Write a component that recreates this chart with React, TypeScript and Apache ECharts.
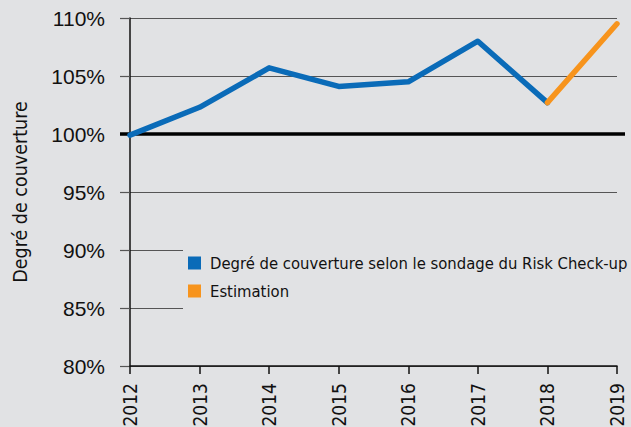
import React, { useEffect, useRef } from "react";
import * as echarts from "echarts";

const years = ["2012", "2013", "2014", "2015", "2016", "2017", "2018", "2019"];
const surveyValues: (number | null)[] = [99.9, 102.3, 105.7, 104.1, 104.5, 108.0, 102.7, null];
const estimateValues: (number | null)[] = [null, null, null, null, null, null, 102.7, 109.5];
const seriesNames = ["Degré de couverture selon le sondage du Risk Check-up", "Estimation"];
const yAxisTitle = "Degré de couverture";
const referenceLevel = 100;

const BG = "#e1e2e4";
const NARROW = "'DejaVu Sans Condensed', 'Liberation Sans Narrow', 'Liberation Sans', sans-serif";
const REGULAR = "'Liberation Sans', Arial, sans-serif";

export default function App() {
  const ref = useRef<HTMLDivElement>(null);
  useEffect(() => {
    if (!ref.current) return;
    const chart = echarts.init(ref.current, null, { renderer: "svg" });
    chart.setOption({
      animation: false,
      backgroundColor: BG,
      grid: { left: 130, right: 14, top: 18, bottom: 61, outerBoundsMode: "none", containLabel: false },
      legend: {
        orient: "vertical",
        left: 183,
        top: 248,
        padding: [5, 12, 10, 5],
        backgroundColor: BG,
        itemWidth: 13,
        itemHeight: 13,
        itemGap: 8,
        icon: "rect",
        textStyle: { fontFamily: NARROW, fontSize: 16.5, color: "#111", lineHeight: 20, padding: [0, 0, 0, 4] },
        data: seriesNames,
      },
      xAxis: {
        type: "category",
        data: years,
        boundaryGap: false,
        axisLine: { lineStyle: { color: "#111", width: 1.5 } },
        axisTick: { length: 8, lineStyle: { color: "#111", width: 1.5 } },
        axisLabel: { rotate: 90, margin: 17, fontFamily: NARROW, fontSize: 19, color: "#111" },
      },
      yAxis: {
        type: "value",
        min: 80,
        max: 110,
        interval: 5,
        name: yAxisTitle,
        nameLocation: "middle",
        nameRotate: 90,
        nameGap: 100,
        nameTextStyle: { fontFamily: NARROW, fontSize: 19.5, color: "#111" },
        axisLine: { show: true, lineStyle: { color: "#111", width: 1.5 } },
        axisTick: { show: true, length: 10, lineStyle: { color: "#555", width: 1.2 } },
        axisLabel: { formatter: "{value}%", margin: 25, fontFamily: REGULAR, fontSize: 21, color: "#111" },
        splitLine: { lineStyle: { color: "#555", width: 1.2 } },
      },
      series: [
        {
          name: seriesNames[0],
          type: "line",
          data: surveyValues,
          symbol: "none",
          color: "#0a6bb8",
          lineStyle: { width: 5.5, cap: "round", join: "round" },
          z: 3,
        },
        {
          name: seriesNames[1],
          type: "line",
          data: estimateValues,
          symbol: "none",
          color: "#f7941d",
          lineStyle: { width: 5.5, cap: "round", join: "round" },
          z: 3,
        },
      ],
    });
    const p = chart.convertToPixel({ gridIndex: 0 }, [0, referenceLevel]) as number[];
    chart.setOption({
      graphic: [
        {
          type: "line",
          z: 2,
          shape: { x1: p[0] - 10, y1: p[1], x2: 625, y2: p[1] },
          style: { stroke: "#000", lineWidth: 3.5 },
        },
      ],
    });
    return () => chart.dispose();
  }, []);
  return (
    <div
      ref={ref}
      style={{ position: "fixed", left: 0, top: 0, width: 631, height: 427 }}
    />
  );
}
